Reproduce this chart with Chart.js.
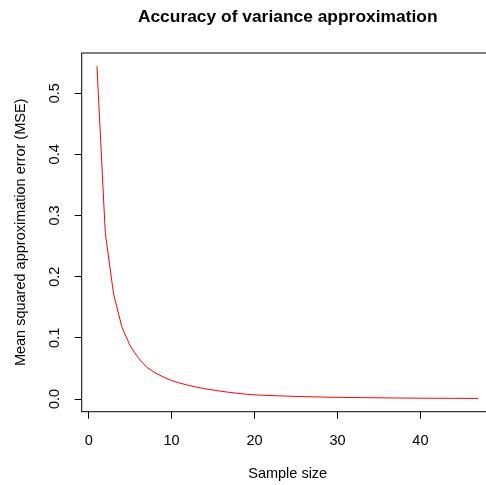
<!DOCTYPE html>
<html>
<head>
<meta charset="utf-8">
<script src="https://cdn.jsdelivr.net/npm/chart.js@4/dist/chart.umd.min.js"></script>
<style>
  html, body { margin: 0; padding: 0; background: #fff; overflow: hidden; }
  #wrap { width: 486px; height: 485px; overflow: hidden; }
  canvas { display: block; }
</style>
</head>
<body>
<div id="wrap"><canvas id="c" width="500" height="485"></canvas></div>
<script>
// Data
const sampleSizes = [1,2,3,4,5,6,7,8,9,10,11,12,13,14,15,16,17,18,19,20,21,22,23,24,25,26,27,28,29,30,31,32,33,34,35,36,37,38,39,40,41,42,43,44,45,46,47];
const mseValues = [0.544,0.272,0.172,0.118,0.087,0.067,0.052,0.043,0.036,0.030,0.026,0.0225,0.0195,0.0169,0.0147,0.0126,0.0108,0.0093,0.0079,0.0068,0.0062,0.0057,0.0052,0.0047,0.0043,0.0039,0.0036,0.0033,0.0030,0.0028,0.0026,0.0024,0.0023,0.0021,0.0020,0.0018,0.0017,0.0016,0.0015,0.0014,0.0013,0.0012,0.0012,0.0011,0.0011,0.0010,0.0010];
const xTicks = [0,10,20,30,40];
const yTicks = [0.0,0.1,0.2,0.3,0.4,0.5];
const yTickLabels = ['0.0','0.1','0.2','0.3','0.4','0.5'];
const titleText = 'Accuracy of variance approximation';
const xTitle = 'Sample size';
const yTitle = 'Mean squared approximation error (MSE)';

const FONT = 'Liberation Sans, Arial, Helvetica, sans-serif';

const boxPlugin = {
  id: 'rbox',
  afterDraw(chart) {
    const {ctx, chartArea: a} = chart;
    ctx.save();
    ctx.strokeStyle = '#000';
    ctx.lineWidth = 1;
    ctx.strokeRect(a.left, a.top, a.right - a.left, a.bottom - a.top);
    ctx.restore();
  }
};

// R-style axis ranges (4% extension)
const xr = [Math.min(...sampleSizes), Math.max(...sampleSizes)];
const yr = [Math.min(...mseValues), Math.max(...mseValues)];
const xPad = (xr[1]-xr[0])*0.04, yPad = (yr[1]-yr[0])*0.04;

new Chart(document.getElementById('c'), {
  type: 'scatter',
  data: {
    datasets: [{
      data: sampleSizes.map((x, i) => ({x, y: mseValues[i]})),
      showLine: true,
      borderColor: '#ff0000',
      borderWidth: 1,
      pointRadius: 0,
      tension: 0,
      fill: false
    }]
  },
  plugins: [boxPlugin],
  options: {
    responsive: false,
    animation: false,
    devicePixelRatio: 1,
    layout: { padding: { left: 0, top: 0, right: 6.3, bottom: 0 } },
    plugins: {
      legend: { display: false },
      tooltip: { enabled: false },
      title: {
        display: true,
        text: titleText,
        fullSize: false,
        color: '#000',
        font: { family: FONT, size: 17.4, weight: 'bold', lineHeight: 1.2 },
        padding: { top: 6.6, bottom: 25.5 }
      }
    },
    scales: {
      x: {
        type: 'linear',
        min: xr[0] - xPad,
        max: xr[1] + xPad,
        afterBuildTicks: s => { s.ticks = xTicks.map(v => ({value: v})); },
        afterFit: s => { s.height = 73.3; },
        grid: { display: true, drawOnChartArea: false, drawTicks: true, tickLength: 7, color: '#000', lineWidth: 1 },
        border: { display: false },
        ticks: { color: '#000', font: { family: FONT, size: 14.5 }, padding: 13.6, maxRotation: 0, autoSkip: false,
                 callback: v => String(v) },
        title: { display: true, text: xTitle, color: '#000', font: { family: FONT, size: 14.5, lineHeight: 1.2 }, padding: { top: 0, bottom: 2.3 } }
      },
      y: {
        type: 'linear',
        min: yr[0] - yPad,
        max: yr[1] + yPad,
        afterBuildTicks: s => { s.ticks = yTicks.map(v => ({value: v})); },
        afterFit: s => { s.width = 81.7; },
        grid: { display: true, drawOnChartArea: false, drawTicks: true, tickLength: 7, color: '#000', lineWidth: 1 },
        border: { display: false },
        ticks: { color: '#000', font: { family: FONT, size: 14.5 }, padding: 9.6, minRotation: 90, maxRotation: 90,
                 crossAlign: 'center', autoSkip: false,
                 callback: v => yTickLabels[yTicks.indexOf(Math.round(v*10)/10)] },
        title: { display: true, text: yTitle, color: '#000', font: { family: FONT, size: 14.5, lineHeight: 1.2 }, padding: { top: 12.3, bottom: 0 } }
      }
    }
  }
});
</script>
</body>
</html>
